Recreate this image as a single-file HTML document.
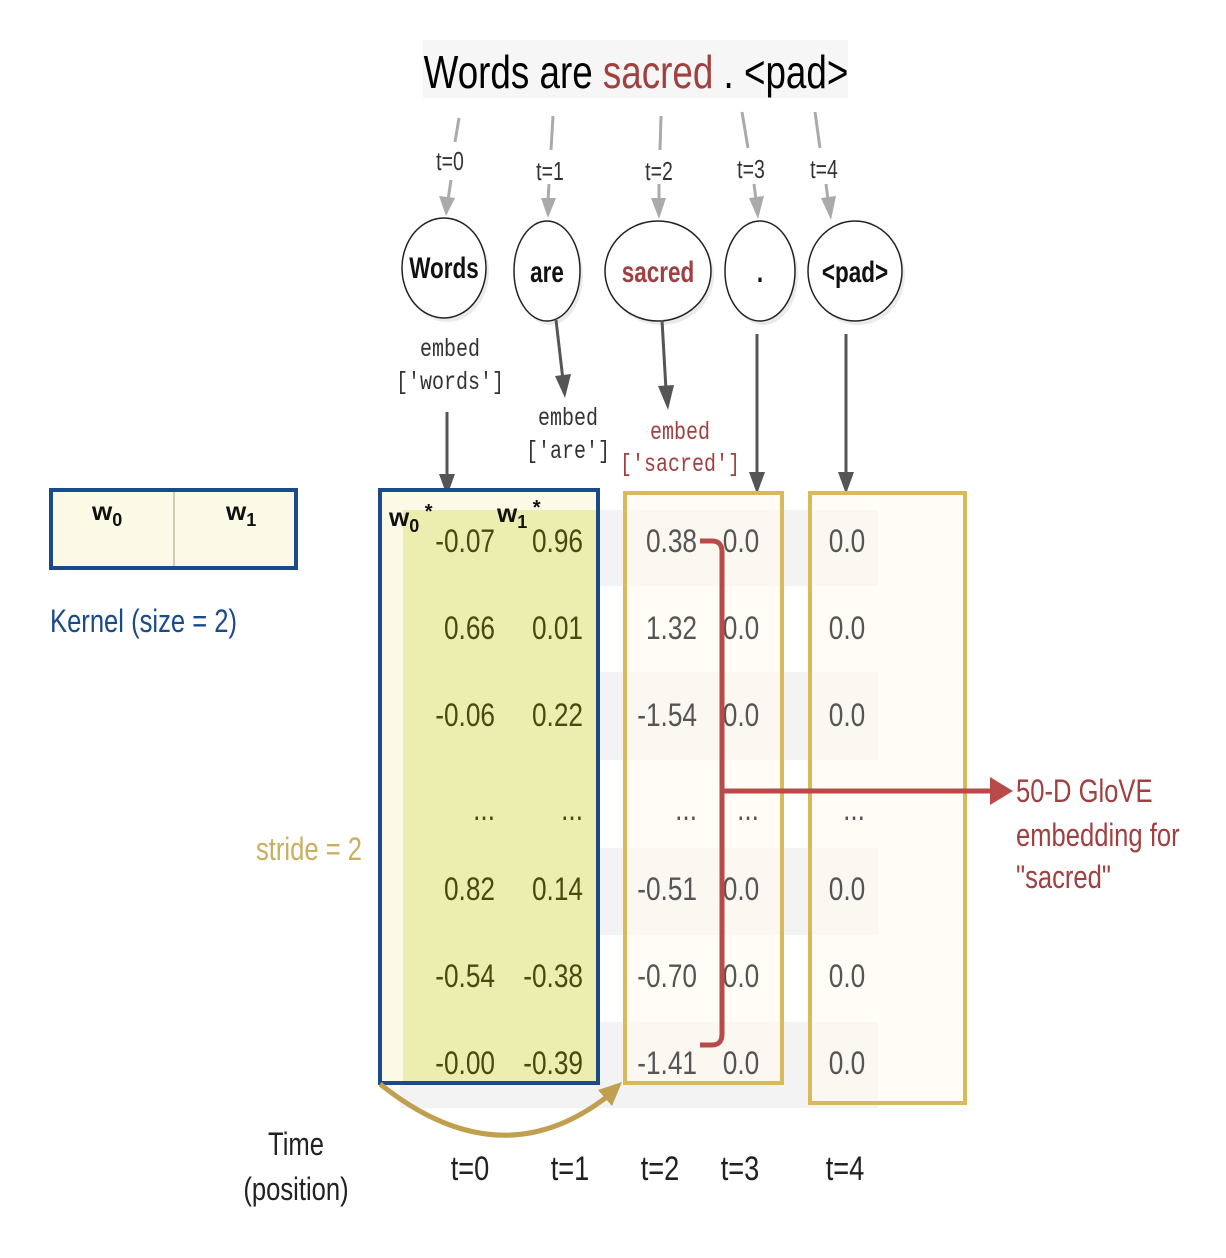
<!DOCTYPE html>
<html><head><meta charset="utf-8"><style>
html,body{margin:0;padding:0;background:#fff;}
svg{display:block;}
text{font-family:"Liberation Sans",sans-serif;}
.n{font-size:32px;fill:#555;}
.g{font-size:32px;fill:#4a4a10;}
.m{font-family:"Liberation Mono",monospace;font-size:25px;fill:#333;}
</style></head><body>
<svg width="1226" height="1258" viewBox="0 0 1226 1258" xmlns="http://www.w3.org/2000/svg">
<defs>
<marker id="ag" markerWidth="8" markerHeight="8" refX="6" refY="4" orient="auto" markerUnits="userSpaceOnUse"><path d="M0,0 L0,0"/></marker>
</defs>
<!-- title -->
<rect x="423" y="40" width="425" height="58" fill="#f6f6f6"/>
<text transform="translate(636,88) scale(.8,1)" text-anchor="middle" font-size="46" fill="#000">Words are <tspan fill="#a04040">sacred</tspan> . &lt;pad&gt;</text>

<!-- gray arrows -->
<g stroke="#aaa" stroke-width="3" fill="none">
<line x1="459" y1="118" x2="455" y2="142"/><line x1="451" y1="180" x2="448" y2="200"/>
<line x1="553" y1="116" x2="551" y2="150"/><line x1="549" y1="184" x2="548" y2="200"/>
<line x1="661" y1="116" x2="660" y2="150"/><line x1="659" y1="184" x2="659" y2="200"/>
<line x1="742" y1="112" x2="748" y2="148"/><line x1="754" y1="184" x2="756" y2="200"/>
<line x1="815" y1="112" x2="820" y2="148"/><line x1="826" y1="184" x2="828" y2="200"/>
</g>
<g fill="#aaa">
<path d="M439,196 L455,198 L446,216Z"/>
<path d="M541,198 L556,198 L548,218Z"/>
<path d="M651,198 L666,198 L659,219Z"/>
<path d="M749,198 L764,196 L758,219Z"/>
<path d="M821,198 L836,196 L831,220Z"/>
</g>
<g font-size="26" fill="#333">
<text transform="translate(450,170) scale(.75,1)" text-anchor="middle">t=0</text>
<text transform="translate(550,180) scale(.75,1)" text-anchor="middle">t=1</text>
<text transform="translate(659,180) scale(.75,1)" text-anchor="middle">t=2</text>
<text transform="translate(751,178) scale(.75,1)" text-anchor="middle">t=3</text>
<text transform="translate(824,178) scale(.75,1)" text-anchor="middle">t=4</text>
</g>

<!-- circles -->
<g fill="#ddd" opacity=".6">
<ellipse cx="447" cy="272" rx="42" ry="50"/><ellipse cx="550" cy="275" rx="33" ry="50"/>
<ellipse cx="661" cy="275" rx="53" ry="50"/><ellipse cx="763" cy="275" rx="35" ry="50"/>
<ellipse cx="858" cy="275" rx="47" ry="50"/>
</g>
<g fill="#fff" stroke="#222" stroke-width="1.5">
<ellipse cx="444" cy="268" rx="42" ry="50"/><ellipse cx="547" cy="271" rx="33" ry="50"/>
<ellipse cx="658" cy="271" rx="53" ry="50"/><ellipse cx="760" cy="271" rx="35" ry="50"/>
<ellipse cx="855" cy="271" rx="47" ry="50"/>
</g>
<g font-size="30" font-weight="bold" fill="#111" text-anchor="middle">
<text transform="translate(444,278) scale(.75,1)">Words</text>
<text transform="translate(547,282) scale(.75,1)">are</text>
<text transform="translate(658,282) scale(.75,1)" fill="#a04040">sacred</text>
<text transform="translate(760,282) scale(.75,1)">.</text>
<text transform="translate(855,282) scale(.75,1)">&lt;pad&gt;</text>
</g>

<!-- dark arrows -->
<g stroke="#555" stroke-width="3">
<line x1="447" y1="412" x2="447" y2="478"/>
<line x1="556" y1="320" x2="563" y2="380"/>
<line x1="662" y1="320" x2="666" y2="390"/>
<line x1="757" y1="334" x2="757" y2="476"/>
<line x1="846" y1="334" x2="846" y2="476"/>
</g>
<g fill="#555">
<path d="M439,474 L455,474 L447,496Z"/>
<path d="M555,376 L571,374 L565,398Z"/>
<path d="M658,386 L674,385 L668,410Z"/>
<path d="M749,472 L765,472 L757,494Z"/>
<path d="M838,472 L854,472 L846,494Z"/>
</g>
<g text-anchor="middle">
<text class="m" transform="translate(450,356) scale(.8,1)">embed</text>
<text class="m" transform="translate(450,389) scale(.8,1)">['words']</text>
<text class="m" transform="translate(568,425) scale(.8,1)">embed</text>
<text class="m" transform="translate(568,458) scale(.8,1)">['are']</text>
<text class="m" transform="translate(680,439) scale(.8,1)" style="fill:#a04040">embed</text>
<text class="m" transform="translate(680,471) scale(.8,1)" style="fill:#a04040">['sacred']</text>
</g>

<!-- kernel -->
<rect x="51" y="490" width="245" height="78" fill="#fafae6" stroke="#1a4a8a" stroke-width="4"/>
<line x1="174" y1="492" x2="174" y2="566" stroke="#ccd0b0" stroke-width="2"/>
<text x="92" y="520" font-size="26" font-weight="bold" fill="#111">w<tspan font-size="18" dy="6">0</tspan></text>
<text x="226" y="520" font-size="26" font-weight="bold" fill="#111">w<tspan font-size="18" dy="6">1</tspan></text>
<text transform="translate(50,632) scale(.8,1)" font-size="32" fill="#1a4a8a">Kernel (size = 2)</text>
<text transform="translate(256,860) scale(.8,1)" font-size="32" fill="#c8b060">stride = 2</text>

<!-- table rows -->
<g fill="#f3f3f3">
<rect x="400" y="510" width="478" height="76"/>
<rect x="400" y="672" width="478" height="88"/>
<rect x="400" y="848" width="478" height="87"/>
<rect x="400" y="1022" width="478" height="86"/>
</g>
<!-- tints -->
<rect x="380" y="490" width="218" height="593" fill="#fafae6"/>
<rect x="403" y="510" width="195" height="573" fill="#eaeca8" opacity=".9"/>
<rect x="625" y="493" width="157" height="590" fill="#fffbee" opacity=".55"/>
<rect x="810" y="493" width="155" height="610" fill="#fffbee" opacity=".55"/>
<rect x="380" y="490" width="218" height="593" fill="none" stroke="#1a4a8a" stroke-width="4"/>
<rect x="625" y="493" width="157" height="590" fill="none" stroke="#d9b95a" stroke-width="4"/>
<rect x="810" y="493" width="155" height="610" fill="none" stroke="#d9b95a" stroke-width="4"/>
<text x="389" y="526" font-size="26" font-weight="bold" fill="#111">w<tspan font-size="18" dy="6">0</tspan><tspan dy="-14" font-size="20"> *</tspan></text>
<text x="497" y="522" font-size="26" font-weight="bold" fill="#111">w<tspan font-size="18" dy="6">1</tspan><tspan dy="-14" font-size="20"> *</tspan></text>

<!-- numbers -->
<g text-anchor="end">
<text class="g" transform="translate(495,552) scale(.82,1)">-0.07</text><text class="g" transform="translate(583,552) scale(.82,1)">0.96</text>
<text class="g" transform="translate(495,639) scale(.82,1)">0.66</text><text class="g" transform="translate(583,639) scale(.82,1)">0.01</text>
<text class="g" transform="translate(495,726) scale(.82,1)">-0.06</text><text class="g" transform="translate(583,726) scale(.82,1)">0.22</text>
<text class="g" transform="translate(495,820) scale(.82,1)" font-size="22">...</text><text class="g" transform="translate(583,820) scale(.82,1)" font-size="22">...</text>
<text class="g" transform="translate(495,900) scale(.82,1)">0.82</text><text class="g" transform="translate(583,900) scale(.82,1)">0.14</text>
<text class="g" transform="translate(495,987) scale(.82,1)">-0.54</text><text class="g" transform="translate(583,987) scale(.82,1)">-0.38</text>
<text class="g" transform="translate(495,1074) scale(.82,1)">-0.00</text><text class="g" transform="translate(583,1074) scale(.82,1)">-0.39</text>
<text class="n" transform="translate(697,552) scale(.82,1)">0.38</text>
<text class="n" transform="translate(697,639) scale(.82,1)">1.32</text>
<text class="n" transform="translate(697,726) scale(.82,1)">-1.54</text>
<text class="n" transform="translate(697,820) scale(.82,1)">...</text>
<text class="n" transform="translate(697,900) scale(.82,1)">-0.51</text>
<text class="n" transform="translate(697,987) scale(.82,1)">-0.70</text>
<text class="n" transform="translate(697,1074) scale(.82,1)">-1.41</text>
</g>
<g text-anchor="middle">
<text class="n" transform="translate(741,552) scale(.82,1)">0.0</text>
<text class="n" transform="translate(741,639) scale(.82,1)">0.0</text>
<text class="n" transform="translate(741,726) scale(.82,1)">0.0</text>
<text class="n" transform="translate(748,820) scale(.82,1)">...</text>
<text class="n" transform="translate(741,900) scale(.82,1)">0.0</text>
<text class="n" transform="translate(741,987) scale(.82,1)">0.0</text>
<text class="n" transform="translate(741,1074) scale(.82,1)">0.0</text>
<text class="n" transform="translate(847,552) scale(.82,1)">0.0</text>
<text class="n" transform="translate(847,639) scale(.82,1)">0.0</text>
<text class="n" transform="translate(847,726) scale(.82,1)">0.0</text>
<text class="n" transform="translate(854,820) scale(.82,1)">...</text>
<text class="n" transform="translate(847,900) scale(.82,1)">0.0</text>
<text class="n" transform="translate(847,987) scale(.82,1)">0.0</text>
<text class="n" transform="translate(847,1074) scale(.82,1)">0.0</text>
</g>

<!-- red bracket -->
<path d="M700,541 L712,541 Q722,541 722,552 L722,1034 Q722,1045 712,1045 L700,1045" fill="none" stroke="#b84a4a" stroke-width="5"/>
<line x1="722" y1="791" x2="995" y2="791" stroke="#b84a4a" stroke-width="5"/>
<path d="M990,777 L1013,791 L990,805Z" fill="#b84a4a"/>
<g font-size="32" fill="#a04040">
<text transform="translate(1016,802) scale(.8,1)">50-D GloVE</text>
<text transform="translate(1016,846) scale(.8,1)">embedding for</text>
<text transform="translate(1016,888) scale(.8,1)">"sacred"</text>
</g>

<!-- stride curve -->
<path d="M380,1084 Q500,1180 608,1096" fill="none" stroke="#c0a050" stroke-width="5"/>
<path d="M598,1090 L622,1082 L612,1106Z" fill="#c0a050"/>

<!-- time labels -->
<g font-size="34" fill="#222" text-anchor="middle">
<text transform="translate(470,1180) scale(.8,1)">t=0</text>
<text transform="translate(570,1180) scale(.8,1)">t=1</text>
<text transform="translate(660,1180) scale(.8,1)">t=2</text>
<text transform="translate(740,1180) scale(.8,1)">t=3</text>
<text transform="translate(845,1180) scale(.8,1)">t=4</text>
<text transform="translate(296,1155) scale(.8,1)" font-size="32">Time</text>
<text transform="translate(296,1200) scale(.8,1)" font-size="32">(position)</text>
</g>
</svg>
</body></html>
